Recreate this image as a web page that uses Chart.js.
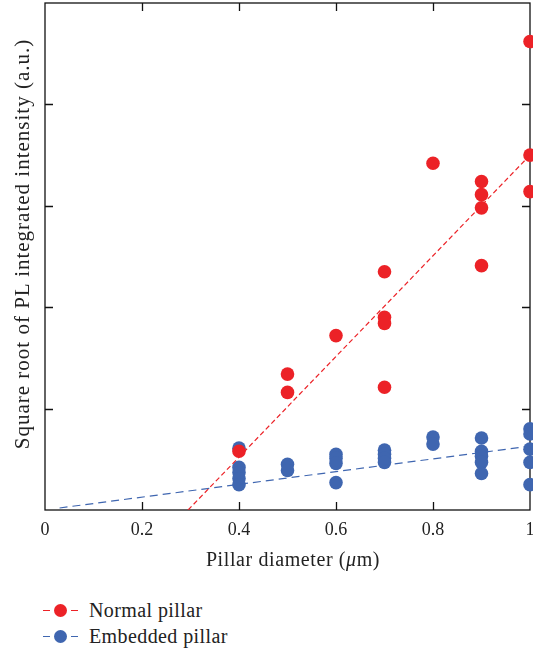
<!DOCTYPE html>
<html>
<head>
<meta charset="utf-8">
<script src="https://cdn.jsdelivr.net/npm/chart.js@4/dist/chart.umd.min.js"></script>
<style>
  html, body { margin: 0; padding: 0; background: #fff; }
  #wrap { position: relative; width: 533px; height: 652px; overflow: hidden; font-family: "Liberation Serif", serif; color: #222; }
  #plot { position: absolute; left: 0; top: 0; }
  .title { position: absolute; white-space: nowrap; text-align: center; }
  #xTitle { left: 143px; top: 547px; width: 300px; line-height: 24px; font-size: 20px; letter-spacing: 0.6px; }
  #yTitle { left: -208px; top: 232px; width: 460px; line-height: 24px; font-size: 21px; letter-spacing: 1px; transform: rotate(-90deg); }
  #legend { position: absolute; left: 43px; top: 597px; font-size: 20px; letter-spacing: 0.4px; }
  .row { display: flex; align-items: center; height: 26px; }
  .dash { width: 7px; height: 0; border-top: 1.3px solid; }
  .dot { width: 13px; height: 13px; border-radius: 50%; margin: 0 4px; }
  .label { margin-left: 11px; }
</style>
</head>
<body>
<div id="wrap">
  <canvas id="plot" width="533" height="580"></canvas>
  <div class="title" id="xTitle">Pillar diameter (<i>μ</i>m)</div>
  <div class="title" id="yTitle">Square root of PL integrated intensity (a.u.)</div>
  <div id="legend"></div>
</div>
<script>
// measured points, one entry per pillar
const normalX = [0.4, 0.5, 0.5, 0.6, 0.7, 0.7, 0.7, 0.7, 0.8, 0.9, 0.9, 0.9, 0.9, 1.0, 1.0, 1.0];
const normalY = [0.58, 1.34, 1.16, 1.72, 2.35, 1.90, 1.84, 1.21, 3.42, 3.24, 3.11, 2.98, 2.41, 4.62, 3.50, 3.14];

const embeddedX = [0.4, 0.4, 0.4, 0.4, 0.4, 0.5, 0.5, 0.6, 0.6, 0.6, 0.6, 0.7, 0.7, 0.7, 0.7,
                   0.8, 0.8, 0.9, 0.9, 0.9, 0.9, 0.9, 1.0, 1.0, 1.0, 1.0, 1.0];
const embeddedY = [0.61, 0.42, 0.37, 0.31, 0.25, 0.45, 0.39, 0.55, 0.51, 0.46, 0.27, 0.59, 0.55, 0.51, 0.47,
                   0.72, 0.65, 0.71, 0.58, 0.53, 0.47, 0.36, 0.80, 0.75, 0.60, 0.47, 0.25];

// linear fits (end points)
const normalFitX = [0.295, 1.0];
const normalFitY = [0, 3.5];
const embeddedFitX = [0.03, 1.0];
const embeddedFitY = [0.02, 0.63];

const xTicks = [0, 0.2, 0.4, 0.6, 0.8, 1];
const yTicks = [1, 2, 3, 4];

const RED = "#EC2227";
const BLUE = "#3F66B0";
const TICK = 8;
const FONT = "'Liberation Serif', serif";

const pts = (xs, ys) => xs.map((x, i) => ({ x, y: ys[i] }));

// box round the plot, ticks pointing inward on all four sides
const frame = {
  id: "frame",
  beforeDatasetsDraw(chart) {
    const { ctx, chartArea: { left, right, top, bottom }, scales: { x, y } } = chart;
    ctx.save();
    ctx.strokeStyle = "#111";
    ctx.lineWidth = 1.3;
    ctx.strokeRect(left, top, right - left, bottom - top);
    ctx.beginPath();
    xTicks.slice(1, -1).forEach(v => {
      const px = Math.round(x.getPixelForValue(v)) + 0.5;
      ctx.moveTo(px, bottom); ctx.lineTo(px, bottom - TICK);
      ctx.moveTo(px, top); ctx.lineTo(px, top + TICK);
    });
    yTicks.forEach(v => {
      const py = Math.round(y.getPixelForValue(v)) + 0.5;
      ctx.moveTo(left, py); ctx.lineTo(left + TICK, py);
      ctx.moveTo(right, py); ctx.lineTo(right - TICK, py);
    });
    ctx.stroke();
    ctx.restore();
  }
};

const fitLine = (label, xs, ys, color, dash) => ({
  label, type: "line", data: pts(xs, ys),
  borderColor: color, borderWidth: 1.2, borderDash: dash,
  pointRadius: 0, showLine: true, fill: false, tension: 0
});

const scatter = (label, xs, ys, color) => ({
  label, data: pts(xs, ys),
  backgroundColor: color, borderWidth: 0,
  pointRadius: 6.8, pointHoverRadius: 6.8, clip: false
});

new Chart(document.getElementById("plot"), {
  type: "scatter",
  data: {
    datasets: [
      fitLine("Normal fit", normalFitX, normalFitY, RED, [5, 3]),
      fitLine("Embedded fit", embeddedFitX, embeddedFitY, BLUE, [8, 5]),
      scatter("Normal pillar", normalX, normalY, RED),
      scatter("Embedded pillar", embeddedX, embeddedY, BLUE)
    ]
  },
  options: {
    responsive: false,
    animation: false,
    layout: { autoPadding: false, padding: { top: 3, right: 3, left: 0, bottom: 0 } },
    plugins: { legend: { display: false }, tooltip: { enabled: false } },
    scales: {
      x: {
        type: "linear", min: 0, max: 1,
        afterBuildTicks: s => { s.ticks = xTicks.map(v => ({ value: v })); },
        afterFit: s => { s.height = 70; s.paddingLeft = 0; s.paddingRight = 0; },
        grid: { display: false, drawTicks: false },
        border: { display: false },
        ticks: {
          padding: 9, color: "#222", maxRotation: 0,
          font: { family: FONT, size: 18 },
          callback: v => (v === 0 || v === 1) ? String(v) : v.toFixed(1)
        }
      },
      y: {
        type: "linear", min: 0, max: 5,
        afterFit: s => { s.width = 45; },
        grid: { display: false, drawTicks: false },
        border: { display: false },
        ticks: { display: false }
      }
    }
  },
  plugins: [frame]
});

// legend rows: dash - dot - dash, then the series name
const legendEl = document.getElementById("legend");
[["Normal pillar", RED], ["Embedded pillar", BLUE]].forEach(([name, color]) => {
  const row = document.createElement("div");
  row.className = "row";
  row.innerHTML = `<span class="dash" style="border-color:${color}"></span>` +
    `<span class="dot" style="background:${color}"></span>` +
    `<span class="dash" style="border-color:${color}"></span>` +
    `<span class="label">${name}</span>`;
  legendEl.appendChild(row);
});
</script>
</body>
</html>
